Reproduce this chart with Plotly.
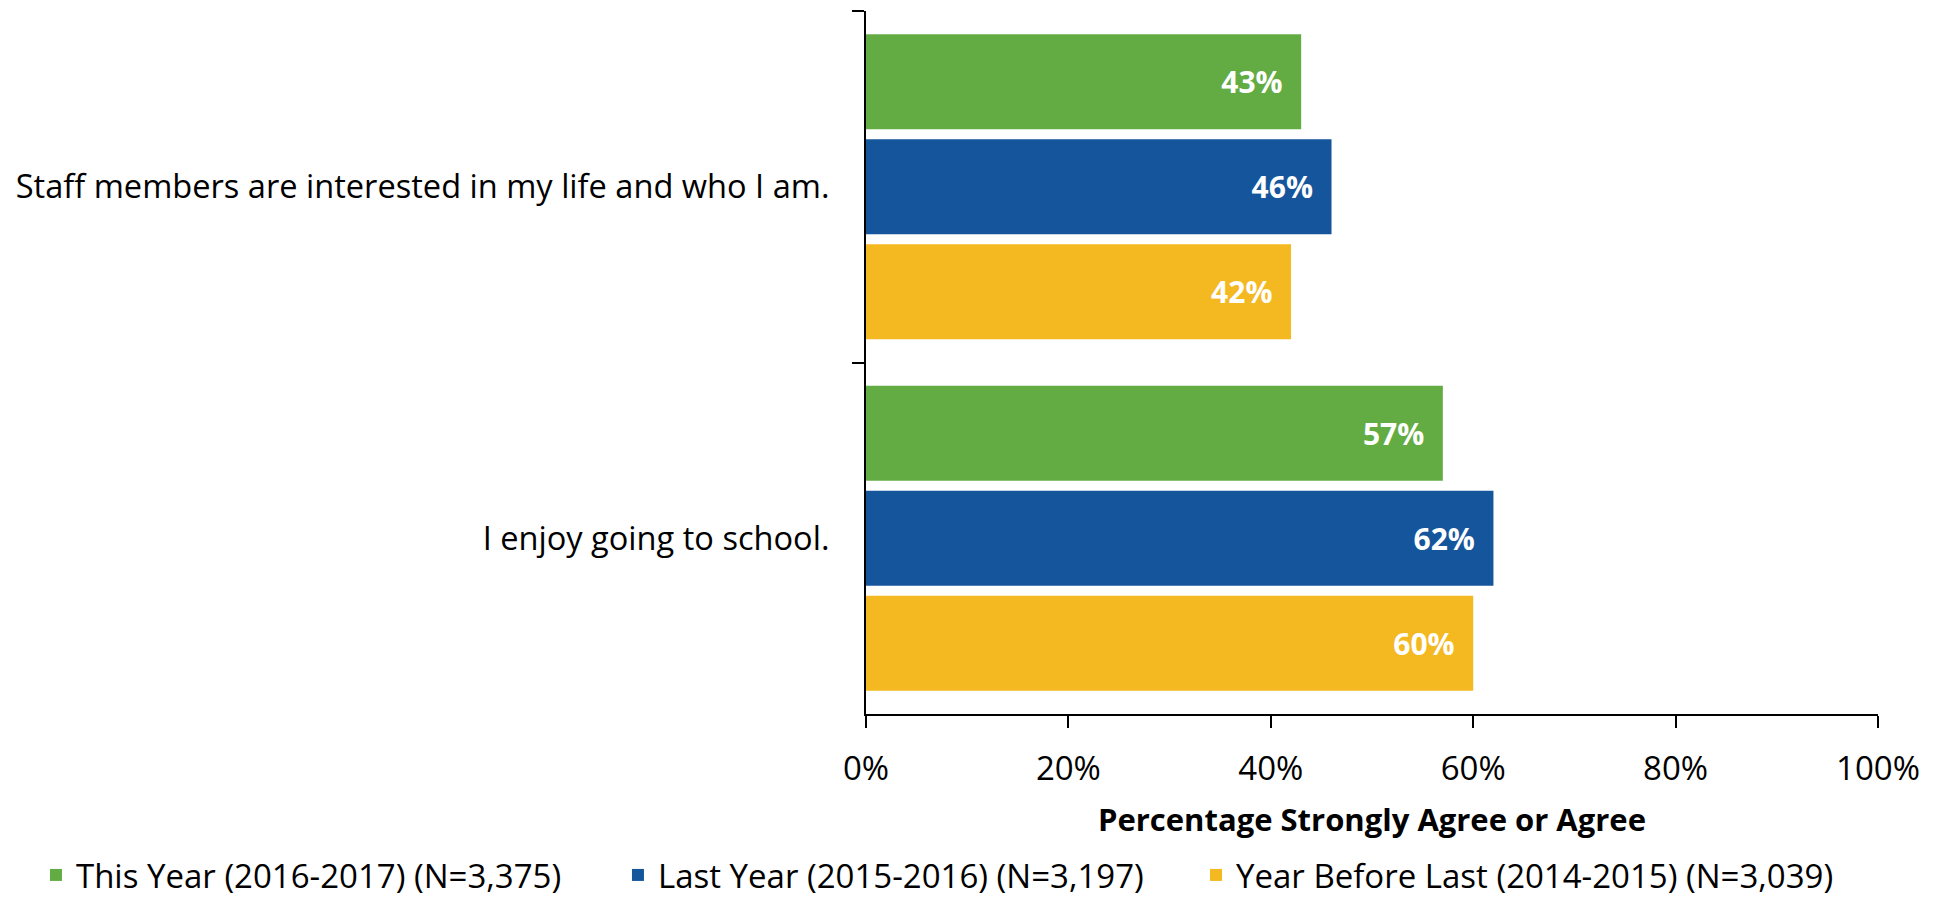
import plotly.graph_objects as go

categories = ["Staff members are interested in my life and who I am.", "I enjoy going to school."]
series_names = ["This Year (2016-2017) (N=3,375)", "Last Year (2015-2016) (N=3,197)", "Year Before Last (2014-2015) (N=3,039)"]
this_year = [43, 57]
last_year = [46, 62]
year_before_last = [42, 60]
x_ticks = [0, 20, 40, 60, 80, 100]
x_tick_labels = ["0%", "20%", "40%", "60%", "80%", "100%"]

colors = ["#63AC43", "#14559B", "#F4B821"]
legend_ids = ["legend", "legend2", "legend3"]
legend_x = [-0.8202, -0.2451, 0.3261]
FONT = "Open Sans"

fig = go.Figure()
for name, vals, col, lg in zip(series_names, [this_year, last_year, year_before_last], colors, legend_ids):
    fig.add_trace(go.Bar(
        y=categories, x=vals, name=name, orientation="h", legend=lg,
        marker=dict(color=col, line=dict(width=0)),
        texttemplate="<b>%{x:.0f}%</b>\u00a0\u00a0",
        textposition="inside", insidetextanchor="end",
        insidetextfont=dict(color="white", size=30, family=FONT),
        constraintext="none",
    ))

legend_layout = {}
for lg, lx in zip(legend_ids, legend_x):
    legend_layout[lg] = dict(orientation="h", x=lx, xanchor="left", y=-0.2290, yanchor="middle",
                             font=dict(size=33, family=FONT), itemwidth=30,
                             bgcolor="rgba(0,0,0,0)")

# page body has an 8px margin, so the figure is sized to fit the 1939x901 window
fig.update_layout(
    width=1931, height=893,
    margin=dict(l=858, r=61, t=3, b=187, autoexpand=False),
    paper_bgcolor="white", plot_bgcolor="white",
    barmode="group", bargap=0.104, bargroupgap=0.095,
    font=dict(family=FONT, size=33, color="black"),
    showlegend=True,
    xaxis=dict(range=[0, 100], tickvals=x_ticks, ticktext=x_tick_labels,
               showgrid=False, zeroline=False, showline=True, linecolor="black", linewidth=2,
               ticks="outside", ticklen=12, tickwidth=2, tickcolor="black",
               ticklabelstandoff=12, automargin=False,
               tickfont=dict(size=33, family=FONT),
               title=dict(text="<b>Percentage Strongly Agree or Agree</b>", font=dict(size=31, family=FONT), standoff=21)),
    yaxis=dict(autorange="reversed", showgrid=False, zeroline=False, showline=True,
               linecolor="black", linewidth=2, ticks="outside", ticklen=12, tickwidth=2,
               tickcolor="black", tickson="boundaries", ticklabelstandoff=28, automargin=False,
               tickfont=dict(size=32.6, family=FONT)),
    **legend_layout,
)

fig.write_html("out.html")
